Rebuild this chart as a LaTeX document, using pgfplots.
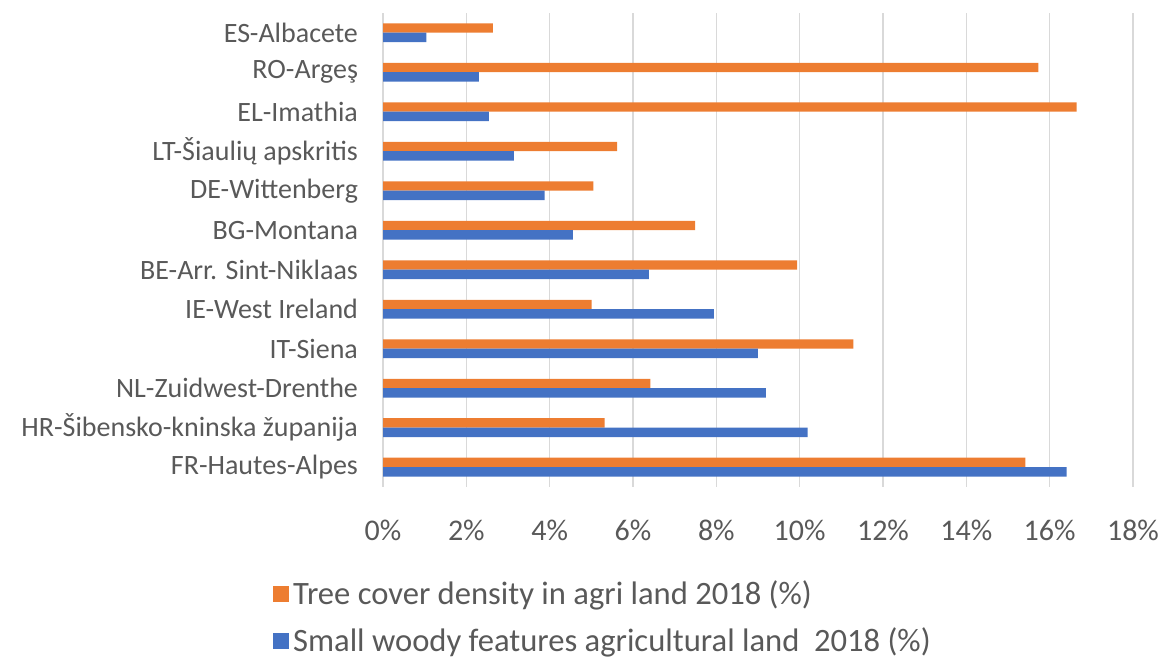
\documentclass[border=0pt]{standalone}
\usepackage{pgfplots}
\pgfplotsset{compat=1.18}
\usepackage{fontspec}
\setmainfont{Carlito}

\definecolor{xlorange}{HTML}{ED7D31}
\definecolor{xlblue}{HTML}{4472C4}
\definecolor{xlgrid}{HTML}{D9D9D9}
\definecolor{xltext}{HTML}{595959}

% FR = 0 (bottom) ... ES = 11 (top)
\pgfplotstableread{
y   tree   woody
0   15.42  16.41
1   5.32   10.19
2   6.42   9.19
3   11.29  9.00
4   5.01   7.94
5   9.94   6.38
6   7.49   4.56
7   5.05   3.88
8   5.62   3.14
9   16.65  2.54
10  15.73  2.30
11  2.64   1.04
}\datatable

\begin{document}
\begin{tikzpicture}
\begin{axis}[
    xbar,
    scale only axis,
    width=375pt, height=237pt,
    xmin=0, xmax=18,
    ymin=-0.5, ymax=11.5,
    bar width=0.24,
    xtick={0,2,...,18},
    xticklabels={0\%,2\%,4\%,6\%,8\%,10\%,12\%,14\%,16\%,18\%},
    ytick={0,...,11},
    yticklabels={FR-Hautes-Alpes, HR-Šibensko-kninska županija, NL-Zuidwest-Drenthe,
        IT-Siena, IE-West Ireland, BE-Arr. Sint-Niklaas, BG-Montana, DE-Wittenberg,
        LT-Šiaulių apskritis, EL-Imathia, RO-Argeş, ES-Albacete},
    xmajorgrids,
    grid style={xlgrid, line width=0.75pt},
    major tick length=0pt,
    axis x line*=bottom,
    axis y line*=left,
    x axis line style={draw=none},
    y axis line style={xlgrid, line width=0.75pt},
    xticklabel style={font=\fontsize{15}{17}\selectfont, text=xltext, yshift=-13pt},
    yticklabel style={font=\fontsize{14}{16}\selectfont, text=xltext, xshift=-9pt},
    legend style={
        at={(rel axis cs:-0.155,-0.18)}, anchor=north west,
        draw=none, fill=none,
        font=\fontsize{16.3}{18}\selectfont, text=xltext,
        legend cell align=left,
        row sep=6pt,
    },
    legend image code/.code={\fill[#1] (0pt,-4pt) rectangle (8pt,4pt);},
]
\addplot[fill=xlorange, draw=none, bar shift=0.12] table[x=tree, y=y] {\datatable};
\addlegendentry{Tree cover density in agri land 2018 (\%)}
\addplot[fill=xlblue, draw=none, bar shift=-0.12] table[x=woody, y=y] {\datatable};
\addlegendentry{Small woody features agricultural land\ \ 2018 (\%)}
\coordinate (bl) at (rel axis cs:-0.5107,-0.365);
\coordinate (tr) at (rel axis cs:1.0467,1.0274);
\end{axis}
\pgfresetboundingbox
\path[use as bounding box] (bl) rectangle (tr);
\end{tikzpicture}
\end{document}
